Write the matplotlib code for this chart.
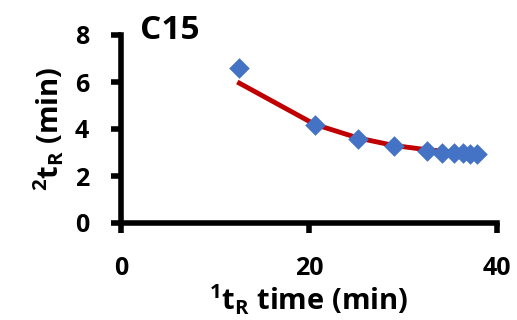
import numpy as np
import matplotlib
matplotlib.use("Agg")
import matplotlib.pyplot as plt

# first dimension retention time (min) and second dimension retention time (min)
t1 = [12.6, 20.6, 25.2, 29.0, 32.5, 34.1, 35.4, 36.4, 37.1, 37.9]
t2 = [6.6, 4.17, 3.57, 3.28, 3.05, 2.99, 2.97, 2.96, 2.95, 2.95]
# fitted curve
t2_fit = [5.95, 4.2, 3.62, 3.3, 3.12, 3.06, 3.03, 3.01, 3.0, 2.99]

plt.rcParams['font.family'] = ['Open Sans', 'DejaVu Sans']
plt.rcParams['font.weight'] = 'bold'
plt.rcParams['mathtext.fontset'] = 'custom'
plt.rcParams['mathtext.rm'] = 'Open Sans:bold'
plt.rcParams['mathtext.it'] = 'Open Sans:bold'
plt.rcParams['mathtext.bf'] = 'Open Sans:bold'

fig = plt.figure(figsize=(5.17, 3.2), dpi=100)
ax = fig.add_axes([121/517, 1-223/320, (497-121)/517, (223-35)/320])

ax.plot(t1, t2_fit, color='#C00000', lw=3.5, zorder=2)
ax.scatter(t1, t2, marker='D', s=110, color='#4472C4', zorder=3, linewidths=0)

ax.set_xlim(0, 40)
ax.set_ylim(0, 8)
ax.set_xticks([0, 20, 40])
ax.set_yticks([0, 2, 4, 6, 8])
for s in ['top', 'right']:
    ax.spines[s].set_visible(False)
for s in ['left', 'bottom']:
    ax.spines[s].set_linewidth(4)
ax.tick_params(width=4, length=7, labelsize=18)
ax.tick_params(axis='y', pad=16)
ax.tick_params(axis='x', pad=17)
for lab in ax.get_xticklabels() + ax.get_yticklabels():
    lab.set_fontweight('bold')

ax.set_xlabel(r'$^{1}$t$_{R}$ time (min)', fontsize=21, fontweight='bold', labelpad=1)
ax.set_ylabel(r'$^{2}$t$_{R}$ (min)', fontsize=21, fontweight='bold', labelpad=6)
ax.text(0.05, 1.11, 'C15', transform=ax.transAxes, fontsize=24, fontweight='bold', va='top')

fig.savefig('out.png', dpi=100)
